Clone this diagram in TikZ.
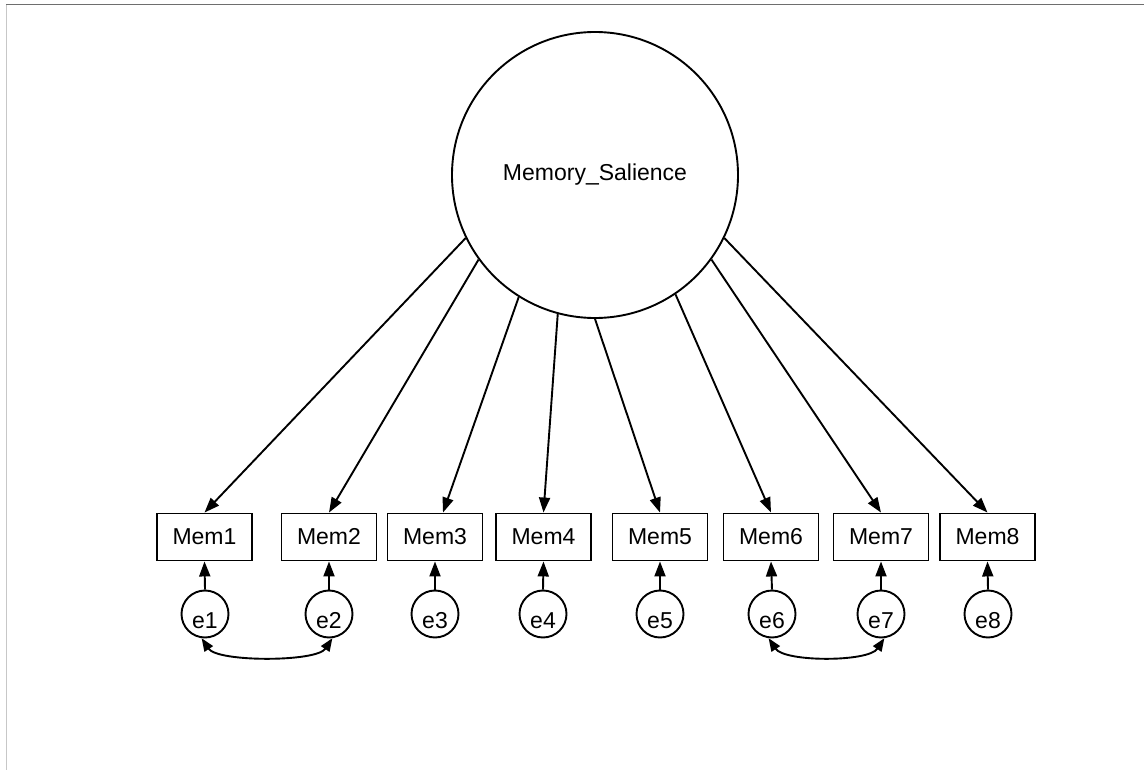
\documentclass[tikz,border=0pt]{standalone}
\usepackage{fontspec}
\setmainfont{Liberation Sans}
\usetikzlibrary{arrows.meta}
\begin{document}
\begin{tikzpicture}[x=1pt,y=-1pt,
  txt/.style={font=\fontsize{23}{27}\selectfont},
  latent/.style={circle, draw, line width=1.9pt, minimum size=286pt, inner sep=0pt, txt},
  obs/.style={rectangle, draw, line width=1.9pt, minimum width=95pt, minimum height=47pt, inner sep=0pt, txt},
  err/.style={circle, draw, line width=1.9pt, minimum size=47pt, inner sep=0pt},
  errtext/.style={yshift=-7pt, txt},
  load/.style={line width=1.9pt, -{Triangle[length=15pt,width=11pt]}},
  cov/.style={line width=1.9pt, {Triangle[length=13pt,width=10pt]}-{Triangle[length=13pt,width=10pt]}}]
\useasboundingbox (0,0) rectangle (1144,770);
% frame edges
\draw[line width=1pt, black!22] (6,5) -- (6,770);
\draw[line width=1pt, black!57] (6,5) -- (1144,5);

% latent factor
\node[latent] (L) at (595,175) {Memory\_Salience};

% indicators
\node[obs] (m1) at (204.5,537) {Mem1};
\node[obs] (m2) at (329,537) {Mem2};
\node[obs] (m3) at (435,537) {Mem3};
\node[obs] (m4) at (543.5,537) {Mem4};
\node[obs] (m5) at (660,537) {Mem5};
\node[obs] (m6) at (771,537) {Mem6};
\node[obs] (m7) at (881,537) {Mem7};
\node[obs] (m8) at (987.5,537) {Mem8};

% error terms
\node[err, label={[errtext]center:e1}] (e1) at (205,614) {};
\node[err, label={[errtext]center:e2}] (e2) at (329,614) {};
\node[err, label={[errtext]center:e3}] (e3) at (435,614) {};
\node[err, label={[errtext]center:e4}] (e4) at (543,614) {};
\node[err, label={[errtext]center:e5}] (e5) at (660,614) {};
\node[err, label={[errtext]center:e6}] (e6) at (772,614) {};
\node[err, label={[errtext]center:e7}] (e7) at (881,614) {};
\node[err, label={[errtext]center:e8}] (e8) at (988,614) {};

% factor loadings
\draw[load] (L.206) -- (m1.north);
\draw[load] (L.216) -- (m2.north);
\draw[load] (L.238) -- ([xshift=8pt]m3.north);
\draw[load] (L.255) -- (m4.north);
\draw[load] (L.270) -- (m5.north);
\draw[load] (L.304) -- (m6.north);
\draw[load] (L.324) -- (m7.north);
\draw[load] (L.334) -- (m8.north);

% error paths
\foreach \i in {1,...,8}
  \draw[load] (e\i.north) -- (m\i.south);

% error covariances
\draw[cov] (e1.262) .. controls +(16,24) and +(-16,24) .. (e2.278);
\draw[cov] (e6.262) .. controls +(16,24) and +(-16,24) .. (e7.278);
\end{tikzpicture}
\end{document}
